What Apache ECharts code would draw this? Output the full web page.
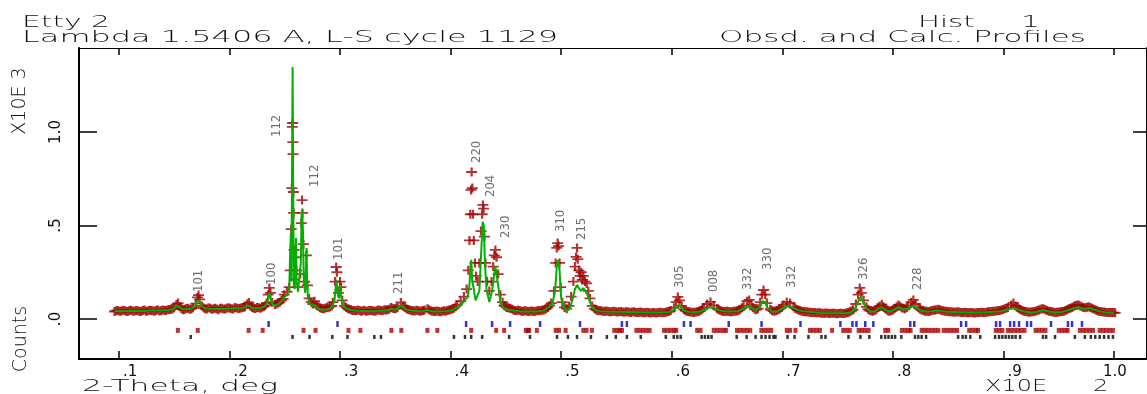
<!DOCTYPE html>
<html>
<head>
<meta charset="utf-8">
<script src="https://cdn.jsdelivr.net/npm/echarts@6/dist/echarts.min.js"></script>
<style>
  html, body { margin: 0; padding: 0; background: #fff; }
  #chart { width: 1147px; height: 394px; }
</style>
</head>
<body>
<div id="chart"></div>
<script>
// 2-theta (deg) / counts
const obsProfile = [
  [9.6,40],[9.9,46],[10.2,41],[10.5,45],[10.8,40],[11.1,47],[11.4,42],[11.7,44],[12.0,40],[12.3,48],
  [12.6,43],[12.9,46],[13.2,42],[13.5,49],[13.8,44],[14.1,47],[14.4,50],[14.7,52],[15.0,60],[15.2,78],
  [15.35,85],[15.5,66],[15.8,50],[16.1,56],[16.4,52],[16.7,60],[16.95,82],[17.1,115],[17.2,128],[17.3,105],
  [17.5,70],[17.8,55],[18.1,60],[18.4,52],[18.7,58],[19.0,50],[19.3,57],[19.6,53],[19.9,60],[20.2,55],
  [20.5,61],[20.8,56],[21.1,60],[21.4,66],[21.6,80],[21.75,88],[21.9,68],[22.2,58],[22.5,62],[22.8,57],
  [23.1,66],[23.35,85],[23.5,130],[23.6,166],[23.7,140],[23.85,90],[24.1,78],[24.4,85],[24.7,100],[24.95,130],
  [25.2,145],[25.4,170],[25.5,260],[25.58,480],[25.64,700],[25.68,1027],[25.71,1048],[25.73,946],[25.75,882],[25.78,679],
  [25.8,567],[25.84,369],[25.9,210],[26.0,330],[26.05,260],[26.2,170],[26.4,240],[26.5,513],[26.56,636],[26.6,567],
  [26.68,400],[26.8,200],[26.95,340],[27.05,180],[27.2,110],[27.4,90],[27.69,95],[27.9,72],[28.2,60],[28.5,55],
  [28.8,62],[29.1,66],[29.35,90],[29.55,200],[29.65,278],[29.72,250],[29.85,140],[30.0,200],[30.08,170],[30.2,100],
  [30.4,70],[30.7,55],[31.0,50],[31.3,45],[31.6,48],[31.9,42],[32.2,47],[32.5,43],[32.8,45],[33.1,41],
  [33.4,48],[33.7,46],[34.0,50],[34.3,49],[34.6,62],[34.9,55],[35.2,62],[35.5,88],[35.7,70],[36.0,55],
  [36.3,48],[36.6,44],[36.9,47],[37.2,41],[37.5,45],[37.9,55],[38.2,44],[38.5,40],[38.8,43],[39.1,38],
  [39.4,44],[39.7,46],[40.0,50],[40.3,58],[40.6,75],[40.9,95],[41.2,120],[41.45,160],[41.6,260],[41.7,420],
  [41.78,560],[41.85,690],[41.9,786],[41.96,700],[42.02,560],[42.1,420],[42.2,300],[42.3,230],[42.45,200],[42.6,300],
  [42.75,470],[42.85,560],[42.92,610],[42.98,590],[43.05,440],[43.15,300],[43.3,200],[43.5,150],[43.7,200],[43.85,280],
  [43.95,340],[44.05,369],[44.15,330],[44.3,240],[44.5,130],[44.7,90],[44.9,70],[45.2,60],[45.5,55],[45.8,46],
  [46.1,48],[46.4,42],[46.7,44],[47.0,40],[47.3,43],[47.6,40],[47.9,45],[48.2,47],[48.5,50],[48.8,62],
  [49.1,85],[49.35,150],[49.5,300],[49.6,380],[49.68,406],[49.76,390],[49.85,300],[49.95,170],[50.1,90],[50.3,62],
  [50.5,55],[50.7,70],[50.9,120],[51.1,200],[51.25,280],[51.35,332],[51.43,380],[51.5,320],[51.6,260],[51.7,230],
  [51.8,250],[51.9,209],[52.0,230],[52.15,200],[52.3,190],[52.45,150],[52.6,110],[52.8,70],[53.0,55],[53.3,45],
  [53.6,44],[53.9,40],[54.2,42],[54.5,38],[54.8,41],[55.1,37],[55.4,40],[55.7,36],[56.0,39],[56.3,35],
  [56.6,38],[56.9,34],[57.2,37],[57.5,33],[57.8,36],[58.1,32],[58.4,35],[58.7,33],[59.0,36],[59.3,34],
  [59.6,38],[59.9,45],[60.2,60],[60.4,90],[60.55,118],[60.7,100],[60.9,70],[61.1,50],[61.4,40],[61.7,37],
  [62.0,35],[62.3,38],[62.6,45],[62.9,62],[63.2,80],[63.5,91],[63.8,72],[64.1,55],[64.4,45],[64.7,40],
  [65.0,42],[65.3,38],[65.6,41],[65.9,44],[66.2,52],[66.5,70],[66.8,95],[67.0,102],[67.2,75],[67.5,52],
  [67.8,55],[68.0,90],[68.15,130],[68.3,155],[68.45,130],[68.6,85],[68.9,52],[69.2,42],[69.5,45],[69.8,55],
  [70.1,75],[70.4,91],[70.7,85],[71.0,65],[71.3,52],[71.6,45],[71.9,40],[72.2,38],[72.5,36],[72.8,35],
  [73.1,32],[73.4,33],[73.7,30],[74.0,32],[74.3,29],[74.6,31],[74.9,28],[75.2,30],[75.5,29],[75.8,32],
  [76.1,38],[76.4,50],[76.65,80],[76.85,130],[77.0,166],[77.15,140],[77.35,100],[77.6,65],[77.9,45],[78.2,42],
  [78.5,50],[78.8,70],[79.0,78],[79.3,55],[79.6,42],[79.9,45],[80.2,58],[80.5,75],[80.8,60],[81.1,55],
  [81.4,70],[81.65,90],[81.85,102],[82.05,80],[82.3,60],[82.6,48],[82.9,42],[83.2,40],[83.5,45],[83.8,48],
  [84.1,52],[84.4,46],[84.7,42],[85.0,40],[85.3,38],[85.6,36],[85.9,38],[86.2,34],[86.5,36],[86.8,33],
  [87.1,35],[87.4,32],[87.7,34],[88.0,36],[88.3,34],[88.6,38],[88.9,40],[89.2,42],[89.5,45],[89.8,48],
  [90.1,55],[90.4,62],[90.7,75],[90.9,86],[91.1,70],[91.4,55],[91.7,45],[92.0,40],[92.3,36],[92.6,38],
  [92.9,42],[93.2,48],[93.5,55],[93.8,50],[94.1,42],[94.4,38],[94.7,35],[95.0,37],[95.3,40],[95.6,45],
  [95.9,55],[96.2,62],[96.5,72],[96.8,75],[97.1,65],[97.4,60],[97.7,66],[98.0,58],[98.3,50],[98.6,42],
  [98.9,38],[99.2,36],[99.5,34],[99.8,35],[100.1,33]
];

// extra observed points between the above, in the flat background stretches
const obsBackground = [
  [9.75,44],[10.05,42],[10.35,47],[10.65,41],[10.95,45],[11.25,43],[11.55,46],[11.85,41],[12.15,45],[12.45,42],
  [12.75,47],[13.05,44],[13.35,46],[13.65,43],[13.95,48],[14.25,45],[14.55,51],[14.85,54],[15.65,55],[15.95,52],
  [16.25,57],[16.55,54],[17.65,60],[17.95,54],[18.25,58],[18.55,55],[18.85,53],[19.15,58],[19.45,54],[19.75,57],
  [20.05,58],[20.35,54],[20.65,59],[20.95,57],[21.25,62],[22.05,62],[22.35,56],[22.65,60],[22.95,63],[23.25,72],
  [24.25,80],[24.55,90],[24.85,108],[27.55,80],[28.05,65],[28.35,56],[28.65,58],[28.95,60],[29.25,70],[30.55,62],
  [30.85,52],[31.15,46],[31.45,44],[31.75,46],[32.05,44],[32.35,42],[32.65,46],[32.95,44],[33.25,43],[33.55,47],
  [33.85,44],[34.15,48],[34.45,52],[34.75,58],[35.05,56],[35.85,62],[36.15,51],[36.45,46],[36.75,43],[37.05,45],
  [37.35,43],[37.65,48],[38.05,50],[38.35,42],[38.65,41],[38.95,40],[39.25,42],[39.55,41],[39.85,48],[40.15,53],
  [40.45,66],[44.85,72],[45.05,62],[45.35,57],[45.65,50],[45.95,44],[46.25,45],[46.55,41],[46.85,43],[47.15,42],
  [47.45,41],[47.75,43],[48.05,44],[48.35,48],[48.65,55],[48.95,72],[53.15,50],[53.45,46],[53.75,41],[54.05,43],
  [54.35,39],[54.65,40],[54.95,38],[55.25,39],[55.55,37],[55.85,38],[56.15,36],[56.45,37],[56.75,35],[57.05,36],
  [57.35,34],[57.65,35],[57.95,33],[58.25,34],[58.55,32],[58.85,35],[59.15,33],[59.45,36],[59.75,40],[61.25,44],
  [61.55,38],[61.85,36],[62.15,37],[62.45,40],[62.75,52],[64.25,50],[64.55,42],[64.85,41],[65.15,40],[65.45,39],
  [65.75,42],[66.05,46],[66.35,60],[67.35,62],[67.65,50],[69.05,46],[69.35,43],[69.65,50],[69.95,62],[71.15,58],
  [71.45,48],[71.75,42],[72.05,39],[72.35,37],[72.65,35],[72.95,34],[73.25,33],[73.55,31],[73.85,31],[74.15,30],
  [74.45,30],[74.75,30],[75.05,29],[75.35,30],[75.65,31],[75.95,35],[76.25,44],[77.75,52],[78.05,43],[78.35,45],
  [78.65,60],[79.15,66],[79.45,48],[79.75,43],[80.05,50],[80.35,66],[80.65,68],[80.95,57],[81.25,62],[82.45,52],
  [82.75,45],[83.05,41],[83.35,42],[83.65,47],[83.95,50],[84.25,49],[84.55,44],[84.85,41],[85.15,39],[85.45,37],
  [85.75,37],[86.05,36],[86.35,35],[86.65,34],[86.95,34],[87.25,33],[87.55,33],[87.85,35],[88.15,35],[88.45,36],
  [88.75,39],[89.05,41],[89.35,43],[89.65,46],[89.95,51],[90.25,58],[91.25,62],[91.55,50],[91.85,42],[92.15,38],
  [92.45,37],[92.75,40],[93.05,45],[93.35,52],[93.65,53],[93.95,46],[94.25,40],[94.55,36],[94.85,36],[95.15,38],
  [95.45,42],[95.75,50],[96.05,58],[96.35,67],[96.65,74],[96.95,70],[97.25,62],[97.55,63],[97.85,62],[98.15,54],
  [98.45,46],[98.75,40],[99.05,37],[99.35,35],[99.65,34],[99.95,34]
];

const calcProfile = [
  [9.6,42],[10.0,43],[10.5,42],[11,43],[11.5,44],[12,43],[12.5,44],[13,45],[13.5,45],[14,46],
  [14.5,48],[15.0,55],[15.2,70],[15.35,75],[15.5,62],[15.8,52],[16.2,53],[16.6,56],[16.9,70],[17.1,100],
  [17.2,107],[17.3,95],[17.5,68],[17.8,57],[18.3,55],[19,54],[19.5,55],[20,56],[20.5,57],[21,58],
  [21.4,62],[21.6,72],[21.7,76],[21.8,70],[22.0,60],[22.4,57],[22.8,60],[23.2,66],[23.45,95],[23.6,139],
  [23.75,100],[23.9,78],[24.2,74],[24.5,82],[24.8,100],[25.0,120],[25.2,130],[25.4,150],[25.5,380],[25.55,460],
  [25.6,200],[25.65,700],[25.71,1348],[25.76,700],[25.82,180],[25.9,160],[25.98,350],[26.02,433],[26.07,200],[26.2,150],
  [26.35,140],[26.45,300],[26.52,560],[26.58,583],[26.65,460],[26.72,200],[26.85,140],[26.93,300],[26.97,380],[27.02,200],
  [27.1,110],[27.3,80],[27.5,70],[27.69,75],[27.9,60],[28.2,52],[28.6,50],[29.0,55],[29.3,65],[29.5,100],
  [29.62,180],[29.68,209],[29.75,150],[29.9,110],[30.0,160],[30.04,182],[30.1,120],[30.25,75],[30.5,58],[31,48],
  [31.5,44],[32,43],[32.5,42],[33,42],[33.5,44],[34,45],[34.4,48],[34.64,55],[34.9,50],[35.2,55],
  [35.45,72],[35.55,75],[35.7,62],[36,50],[36.5,45],[37,43],[37.5,42],[37.89,48],[38.2,43],[38.6,40],
  [39,40],[39.5,42],[40,45],[40.3,52],[40.6,62],[41.0,80],[41.3,100],[41.55,120],[41.7,180],[41.8,280],
  [41.87,316],[41.95,200],[42.1,160],[42.25,100],[42.4,91],[42.6,150],[42.8,400],[42.9,519],[43.0,500],[43.1,300],
  [43.25,155],[43.5,91],[43.75,150],[43.95,240],[44.05,278],[44.15,270],[44.3,180],[44.5,86],[44.8,59],[45.2,50],
  [45.7,45],[46.2,42],[46.7,40],[47.2,40],[47.6,40],[48.0,42],[48.4,45],[48.8,60],[49.2,80],[49.45,150],
  [49.6,280],[49.72,316],[49.85,260],[50.0,110],[50.2,72],[50.4,50],[50.6,48],[50.8,60],[51.0,100],[51.25,160],
  [51.43,182],[51.6,165],[51.8,150],[52.0,165],[52.2,150],[52.33,144],[52.5,110],[52.8,60],[53.1,48],[53.5,42],
  [54,40],[55,38],[56,37],[57,36],[58,34],[59,34],[59.8,38],[60.2,48],[60.45,65],[60.64,75],
  [60.8,65],[61.1,45],[61.5,38],[62,36],[62.6,40],[63.0,52],[63.4,62],[63.53,64],[63.8,58],[64.2,48],
  [64.6,42],[65,40],[65.5,40],[66,42],[66.5,55],[66.8,72],[66.96,75],[67.2,58],[67.6,48],[68.0,65],
  [68.2,95],[68.31,102],[68.45,90],[68.7,55],[69.1,40],[69.6,42],[70.0,55],[70.3,66],[70.57,70],[70.9,62],
  [71.3,50],[71.8,42],[72.5,38],[73.5,32],[74.5,30],[75.5,30],[76.2,35],[76.6,55],[76.9,100],[77.07,118],
  [77.25,100],[77.6,55],[78.0,40],[78.4,42],[78.7,55],[78.97,64],[79.3,48],[79.7,40],[80.1,48],[80.5,64],
  [80.9,52],[81.3,55],[81.6,65],[81.85,70],[82.1,60],[82.5,45],[83,40],[83.5,42],[84,45],[84.5,42],
  [85,38],[86,36],[87,34],[88,35],[89,38],[89.8,42],[90.4,52],[90.88,59],[91.3,50],[91.9,40],
  [92.5,35],[93.0,38],[93.59,48],[94.1,40],[94.7,35],[95.3,38],[95.9,48],[96.4,58],[96.75,64],[97.2,55],
  [97.83,59],[98.3,48],[98.9,38],[99.5,34],[100.0,33]
];

// reflection markers, three phases (2-theta, deg)
const reflBlue = [23.54, 29.77, 41.4, 43.75, 45.38, 48.09, 51.7, 55.49, 55.94, 61.1, 61.7, 65.15, 68.12,
  71.64, 75.25, 76.34, 76.7, 77.5, 78.23, 81.57, 81.93, 86.17, 86.62, 89.33, 89.69, 90.6, 90.96, 91.41,
  92.13, 92.49, 94.3, 95.83, 96.2, 97.1];
const reflRed = [15.33, 17.13, 21.73, 23.0, 26.7, 27.78, 30.76, 31.84, 34.64, 35.54, 37.9, 38.8, 41.86,
  44.12, 44.84, 46.8, 47.0, 47.1, 47.8, 49.5, 49.8, 50.4, 52.0, 52.3, 52.78, 54.8, 55.1, 55.3, 55.5,
  56.8, 57.1, 57.4, 57.7, 58.0, 59.3, 59.6, 59.9, 60.2, 60.4, 62.3, 62.6, 63.8, 64.1, 64.4, 64.7, 64.9,
  65.9, 66.2, 66.5, 66.8, 67.1, 68.1, 68.4, 68.7, 69.0, 70.4, 70.7, 71.19, 72.5, 72.8, 73.1, 73.4, 74.5,
  75.5, 75.8, 76.1, 76.9, 77.2, 77.5, 77.8, 79.3, 79.58, 80.8, 81.1, 81.4, 81.6, 82.6, 82.9, 83.2, 83.5,
  83.8, 84.1, 84.6, 84.9, 85.2, 85.5, 85.8, 86.9, 87.2, 87.5, 87.7, 89.3, 89.6, 89.9, 90.4, 90.7, 91.0,
  91.3, 91.6, 91.9, 92.9, 93.2, 93.5, 93.8, 95.0, 95.3, 95.6, 95.8, 96.9, 97.2, 97.5, 97.8, 98.1, 98.7,
  99.0, 99.3, 99.6, 99.9];
const reflBlack = [16.5, 25.7, 27.24, 29.3, 30.67, 33.1, 33.7, 40.3, 41.3, 41.86, 42.85, 45.29, 47.18,
  49.62, 50.61, 51.43, 52.69, 54.13, 54.94, 55.94, 57.2, 59.46, 60.18, 60.5, 60.81, 62.7, 63.0, 63.3,
  63.6, 65.87, 66.77, 67.58, 68.12, 68.48, 68.84, 69.2, 69.38, 70.47, 71.1, 72.36, 73.54, 73.9, 75.98,
  77.06, 77.87, 78.95, 79.3, 79.6, 79.9, 80.2, 80.76, 82.0, 82.3, 82.6, 83.0, 85.9, 86.3, 86.6, 87.0,
  87.9, 89.24, 89.6, 89.9, 90.2, 90.5, 90.8, 91.1, 91.5, 93.57, 93.86, 94.66, 96.46, 97.36, 97.9, 98.3,
  98.7, 99.1, 99.5, 99.9];
const reflLevels = { blue: -27, red: -61, black: -96 };

// hkl labels: [2-theta of label, counts at label foot, hkl]
const hklLabels = [
  [17.22,144,'101'],[23.81,182,'100'],[24.26,973,'112'],[27.69,706,'112'],[29.86,316,'101'],
  [35.28,134,'211'],[42.32,834,'220'],[43.58,652,'204'],[44.93,433,'230'],[49.99,465,'310'],
  [51.88,422,'215'],[60.73,166,'305'],[63.8,144,'008'],[66.87,155,'332'],[68.68,262,'330'],
  [70.84,166,'332'],[77.34,209,'326'],[82.22,155,'228']
];

const xTicks = [10, 20, 30, 40, 50, 60, 70, 80, 90, 100];
const yTicks = [0, 500, 1000];

const chart = echarts.init(document.getElementById('chart'));

const plotFont = '"DejaVu Sans", sans-serif';
function headerText(text, x, y, sx) {
  return {
    type: 'text', x: x, y: y, scaleX: sx,
    style: { text: text, fontFamily: plotFont, fontWeight: 200, fontSize: 15, fill: '#111', align: 'left', verticalAlign: 'middle' }
  };
}
function sideText(text, x, y) {
  return {
    type: 'text', x: x, y: y, rotation: Math.PI / 2,
    style: { text: text, fontFamily: plotFont, fontWeight: 200, fontSize: 19, fill: '#111', align: 'center', verticalAlign: 'middle' }
  };
}

// thin "+" marker for observed points
const plus = 'path://M0,4H4V0H6V4H10V6H6V10H4V6H0Z';

const option = {
  animation: false,
  backgroundColor: '#fff',
  grid: { left: 79, top: 48, width: 1070, height: 311, containLabel: false },
  graphic: [
    headerText('Etty 2', 22, 23, 1.98),
    headerText('Lambda 1.5406 A, L-S cycle 1129', 22, 38.5, 2.13),
    headerText('Hist     1', 918, 23, 1.95),
    headerText('Obsd. and Calc. Profiles', 719, 38.5, 2.07),
    headerText('2-Theta, deg', 82, 387.5, 2.09),
    headerText('X10E      2', 985, 387.5, 1.6),
    sideText('X10E 3', 20, 101),
    sideText('Counts', 21, 339)
  ],
  xAxis: [
    {
      type: 'value', position: 'bottom', min: 6.39, max: 102.98,
      axisLine: { onZero: false, lineStyle: { color: '#000', width: 2 } },
      axisTick: { inside: true, length: 8, lineStyle: { color: '#000', width: 1.5 }, customValues: xTicks },
      axisLabel: {
        customValues: xTicks.map(function (t) { return t === 100 ? 99.0 : t + 0.36; }),
        formatter: function (v) { return v > 95 ? '1.0' : '.' + Math.floor(v / 10); },
        align: 'left', margin: 6, color: '#111', fontSize: 15, fontFamily: plotFont
      },
      splitLine: { show: false }
    },
    {
      type: 'value', position: 'top', min: 6.39, max: 102.98,
      axisLine: { onZero: false, lineStyle: { color: '#000', width: 1 } },
      axisTick: { inside: true, length: 7, lineStyle: { color: '#000', width: 1.5 }, customValues: xTicks },
      axisLabel: { show: false },
      splitLine: { show: false }
    }
  ],
  yAxis: [
    {
      type: 'value', position: 'left', min: -214, max: 1449,
      axisLine: { show: true, onZero: false, lineStyle: { color: '#000', width: 2 } },
      axisTick: { show: true, inside: true, length: 18, lineStyle: { color: '#000', width: 1.5 }, customValues: yTicks },
      axisLabel: {
        customValues: yTicks, rotate: 90, margin: 15,
        formatter: function (v) { return v === 1000 ? '1.0' : '.' + (v / 100); },
        color: '#111', fontSize: 15, fontFamily: plotFont
      },
      splitLine: { show: false }
    },
    {
      type: 'value', position: 'right', min: -214, max: 1449,
      axisLine: { show: true, onZero: false, lineStyle: { color: '#000', width: 2 } },
      axisTick: { show: true, inside: true, length: 14, lineStyle: { color: '#000', width: 1.5 }, customValues: yTicks },
      axisLabel: { show: false },
      splitLine: { show: false }
    }
  ],
  series: [
    {
      name: 'Obsd', type: 'scatter', data: obsProfile.concat(obsBackground),
      symbol: plus, symbolSize: [11, 9],
      itemStyle: { color: '#a00000' }
    },
    {
      name: 'Calc', type: 'line', data: calcProfile, showSymbol: false,
      lineStyle: { color: '#00b000', width: 2 }, z: 3
    },
    {
      name: 'refl-blue', type: 'scatter', symbol: 'rect', symbolSize: [2.5, 6],
      data: reflBlue.map(function (t) { return [t, reflLevels.blue]; }),
      itemStyle: { color: '#0000c8' }
    },
    {
      name: 'refl-red', type: 'scatter', symbol: 'rect', symbolSize: [4, 5],
      data: reflRed.map(function (t) { return [t, reflLevels.red]; }),
      itemStyle: { color: '#b00000' }
    },
    {
      name: 'refl-black', type: 'scatter', symbol: 'rect', symbolSize: [2.5, 4],
      data: reflBlack.map(function (t) { return [t, reflLevels.black]; }),
      itemStyle: { color: '#000' }
    },
    {
      name: 'hkl', type: 'scatter', symbolSize: 0,
      data: hklLabels.map(function (h) { return { value: [h[0], h[1]], name: h[2] }; }),
      label: {
        show: true, formatter: '{b}', rotate: 90, position: [0, 0],
        align: 'left', verticalAlign: 'middle',
        color: '#4a4a4a', fontSize: 13, fontFamily: '"Liberation Sans Narrow", "DejaVu Sans Condensed", sans-serif'
      },
      z: 4
    }
  ]
};

chart.setOption(option);
</script>
</body>
</html>
